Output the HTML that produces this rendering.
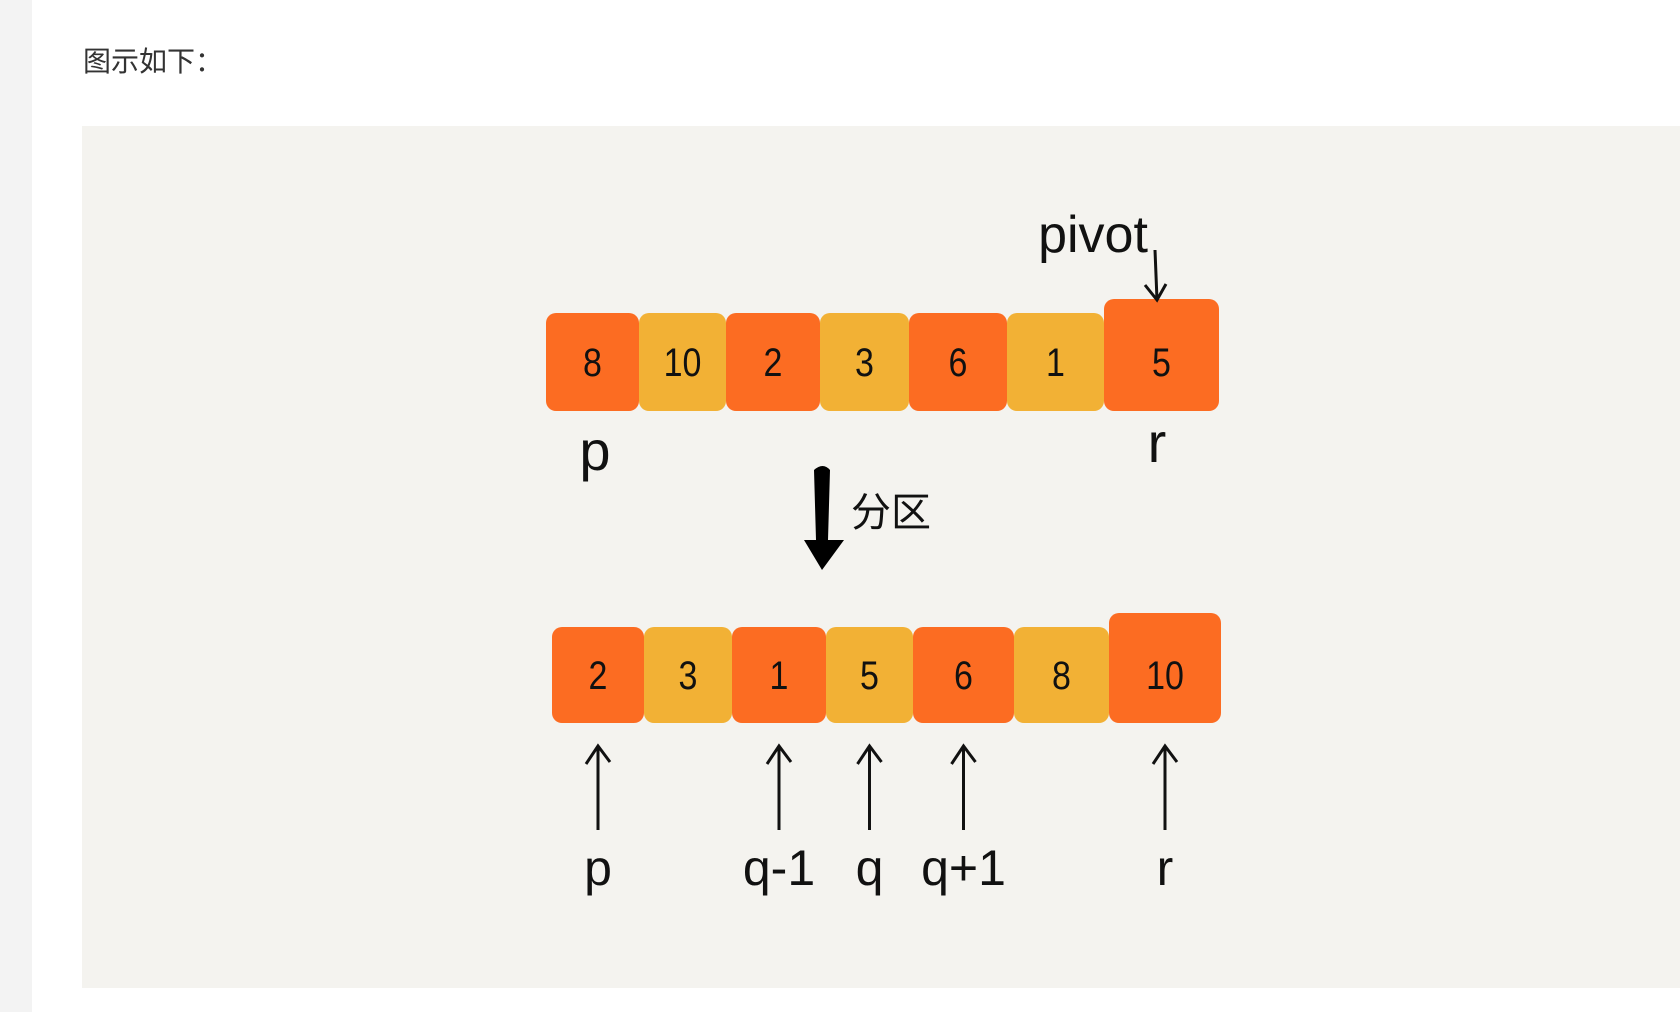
<!DOCTYPE html>
<html><head><meta charset="utf-8"><style>
html,body{margin:0;padding:0;width:1680px;height:1012px;overflow:hidden;background:#fff;}
#strip{position:absolute;left:0;top:0;width:32px;height:1012px;background:#f3f3f3;}
#cap{position:absolute;left:83px;top:40px;font:28px "Liberation Sans","Noto Sans CJK SC",sans-serif;color:#333;}
#panel{position:absolute;left:82px;top:126px;width:1598px;height:862px;background:#f4f3ef;}
svg{position:absolute;left:0;top:0;}
</style></head><body>
<div id="strip"></div>
<div id="cap">图示如下：</div>
<div id="panel"></div>
<svg id="svg" width="1680" height="1012"></svg>
<script>
const topValues=[8,10,2,3,6,1,5];
const bottomValues=[2,3,1,5,6,8,10];
const topEdges=[546,639,726,820,909,1007,1104,1219];
const bottomEdges=[552,644,732,826,913,1014,1109,1221];
const bottomLabels=["p","","q-1","q","q+1","","r"];
const NS="http://www.w3.org/2000/svg";
const svg=document.getElementById('svg');
function mk(t,a){const e=document.createElementNS(NS,t);for(const k in a)e.setAttribute(k,a[k]);svg.appendChild(e);return e;}
const font='"Liberation Sans","Noto Sans CJK SC",sans-serif';
function row(vals,edges,y0,y1,name){
 vals.forEach((v,i)=>{
  const big=i===vals.length-1;
  const top=big?y0-14:y0;
  const r=mk('rect',{x:edges[i],y:top,width:edges[i+1]-edges[i],height:y1-top,rx:10,fill:i%2===0?'#fc6c22':'#f2b135'});
  
  
  const t=mk('text',{x:(edges[i]+edges[i+1])/2,y:(y0+y1)/2+14,'text-anchor':'middle','font-family':font,'font-size':40,fill:'#111',transform:`translate(${(edges[i]+edges[i+1])/2} 0) scale(0.85 1) translate(${-(edges[i]+edges[i+1])/2} 0)`});
  t.textContent=v;
  
  
 });
}
row(topValues,topEdges,313,411,'top-array');
row(bottomValues,bottomEdges,627,723,'bottom-array');
function lbl(txt,x,y,size,name){const t=mk('text',{x:x,y:y,'text-anchor':'middle','font-family':font,'font-size':size,fill:'#111'});t.textContent=txt;return t;}
lbl('pivot',1093,252,52,'pivot-label');
const pa=mk('path',{d:'M1155 250 L1157 300 M1145 285 L1157 300 L1166 284',stroke:'#111','stroke-width':3,fill:'none'});

lbl('p',595,470,56,'top-p-label');
lbl('r',1157,462,56,'top-r-label');
const ba=mk('path',{d:'M814 470 Q823 462 830 470 L828 540 L844 540 L822 570 L804 540 L816 540 Z',fill:'#000'});

lbl('分区',891,526,40,'partition-label');
bottomLabels.forEach((l,i)=>{
 if(!l)return;
 const x=(bottomEdges[i]+bottomEdges[i+1])/2;
 const a=mk('path',{d:`M${x} 830 L${x} 746 M${x-12} 764 L${x} 746 L${x+12} 762`,stroke:'#111','stroke-width':3,fill:'none'});
 
 lbl(l,x,885,50,'pointer-label-'+i);
});
</script>
</body></html>
